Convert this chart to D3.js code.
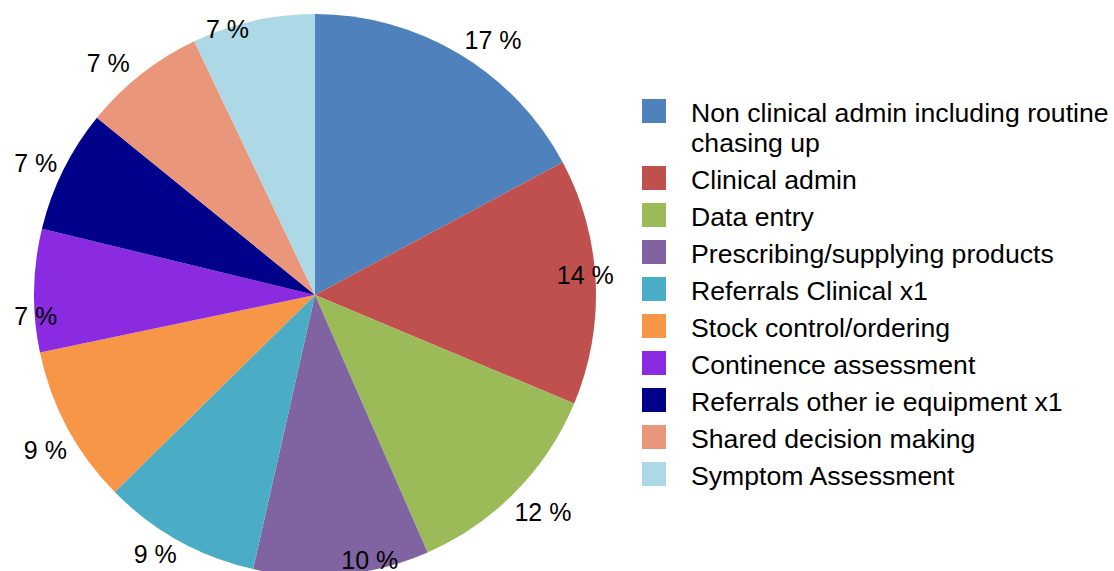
<!DOCTYPE html>
<html>
<head>
<meta charset="utf-8">
<script src="https://cdn.jsdelivr.net/npm/d3@7/dist/d3.min.js"></script>
<style>
  html, body { margin: 0; padding: 0; background: #fff; }
  svg { display: block; font-family: "Liberation Sans", Arial, sans-serif; }
</style>
</head>
<body>
<svg id="chart" width="1114" height="571"></svg>
<script>
// Share of time by activity (percent)
const categories = [
  "Non clinical admin including routine chasing up",
  "Clinical admin",
  "Data entry",
  "Prescribing/supplying products",
  "Referrals Clinical x1",
  "Stock control/ordering",
  "Continence assessment",
  "Referrals other ie equipment x1",
  "Shared decision making",
  "Symptom Assessment"
];
const shares = [17, 14, 12, 10, 9, 9, 7, 7, 7, 7];
const colors = [
  "#4F81BD", "#C0504D", "#9BBB59", "#8064A2", "#4BACC6",
  "#F79646", "#8A2BE2", "#00008B", "#E9967A", "#ADD8E6"
];

// Percentage label placement: [distance from centre, angular nudge in degrees]
const labelLayout = [
  [311, 4.0], [271, -1.6], [315, -0.9], [271, -6.2], [304, 2.6],
  [311, -1.7], [280, -5.2], [309, -1.0], [311, -3.5], [280, -5.5]
];

const svg = d3.select("#chart");
const cx = 315, cy = 295, radius = 281;
const fontSize = 25;

const data = categories.map((c, i) => ({ name: c, value: shares[i], color: colors[i] }));

const pie = d3.pie().sort(null).value(d => d.value);
const arcs = pie(data);
const arc = d3.arc().innerRadius(0).outerRadius(radius);

const g = svg.append("g").attr("transform", `translate(${cx},${cy})`);

g.selectAll("path.slice")
  .data(arcs)
  .join("path")
  .attr("class", "slice")
  .attr("d", arc)
  .attr("fill", d => d.data.color);

g.selectAll("text.pct")
  .data(arcs)
  .join("text")
  .attr("class", "pct")
  .attr("x", (d, i) => {
    const a = (d.startAngle + d.endAngle) / 2 + labelLayout[i][1] * Math.PI / 180;
    return Math.sin(a) * labelLayout[i][0];
  })
  .attr("y", (d, i) => {
    const a = (d.startAngle + d.endAngle) / 2 + labelLayout[i][1] * Math.PI / 180;
    return -Math.cos(a) * labelLayout[i][0];
  })
  .attr("dy", "0.36em")
  .attr("text-anchor", "middle")
  .attr("font-size", fontSize)
  .attr("fill", "#000")
  .text(d => `${d.data.value} %`);

// Legend
const legendX = 642, legendTop = 99, swatch = 24, textX = 691;
const rowGap = 37, lineGap = 30, wrapWidth = 400, textStretch = 1.066;

const legend = svg.append("g");
let y = legendTop;
data.forEach(d => {
  legend.append("rect")
    .attr("x", legendX).attr("y", y)
    .attr("width", swatch).attr("height", swatch)
    .attr("fill", d.color);

  const t = legend.append("text")
    .attr("transform", `translate(${textX},0) scale(${textStretch},1)`)
    .attr("x", 0)
    .attr("font-size", fontSize)
    .attr("fill", "#000");

  // word wrap to the legend width
  const words = d.name.split(" ");
  let lines = [];
  let line = [];
  const probe = t.append("tspan");
  words.forEach(w => {
    line.push(w);
    probe.text(line.join(" "));
    if (probe.node().getComputedTextLength() > wrapWidth && line.length > 1) {
      line.pop();
      lines.push(line.join(" "));
      line = [w];
    }
  });
  lines.push(line.join(" "));
  probe.remove();

  lines.forEach((ln, k) => {
    t.append("tspan")
      .attr("x", 0)
      .attr("y", y + swatch - 1 + k * lineGap)
      .text(ln);
  });
  y += rowGap + (lines.length - 1) * lineGap;
});
</script>
</body>
</html>
